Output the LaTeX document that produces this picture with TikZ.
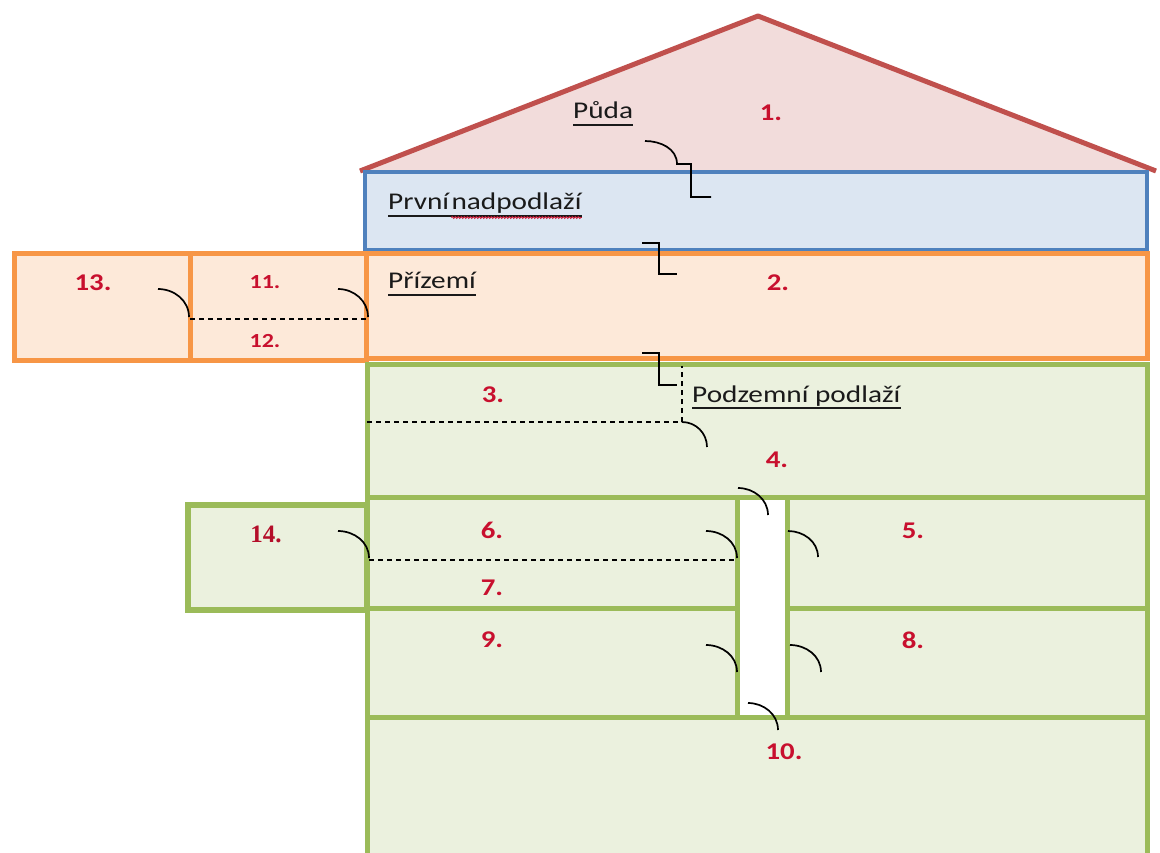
\documentclass[tikz,border=0pt]{standalone}
\usepackage{fontspec}
\setmainfont{Carlito}
\newfontfamily\labelfont[FakeStretch=1.22]{Carlito}
\newfontfamily\numfont[FakeStretch=1.2]{Carlito}
\newfontfamily\serifnum{Liberation Serif}
\usetikzlibrary{decorations.pathmorphing}

\definecolor{roofLine}{HTML}{C0504D}
\definecolor{roofFill}{HTML}{F2DCDB}
\definecolor{blueLine}{HTML}{4F81BD}
\definecolor{blueFill}{HTML}{DCE6F2}
\definecolor{orangeLine}{HTML}{F79646}
\definecolor{orangeFill}{HTML}{FDE9D9}
\definecolor{greenLine}{HTML}{9BBB59}
\definecolor{greenFill}{HTML}{EBF1DE}
\definecolor{numRed}{HTML}{C8102E}
\definecolor{txtDark}{HTML}{1A1A1A}

\begin{document}
\begin{tikzpicture}[x=1pt,y=-1pt,
  floorname/.style={inner sep=0pt, anchor=base west, text=txtDark,
    font=\labelfont\fontsize{24}{28}\selectfont},
  roomno/.style={inner sep=0pt, text=numRed,
    font=\numfont\bfseries\fontsize{24}{28}\selectfont},
  smallno/.style={inner sep=0pt, text=numRed,
    font=\numfont\bfseries\fontsize{20}{24}\selectfont},
  serifno/.style={inner sep=0pt, text=numRed!90!black,
    font=\serifnum\bfseries\fontsize{25}{29}\selectfont},
  underl/.style={line width=1.8pt, txtDark},
  gwall/.style={draw=greenLine, line width=5pt},
  owall/.style={draw=orangeLine, line width=5pt},
  door/.style={line width=1.7pt, black},
  stairs/.style={line width=1.7pt, black},
  partition/.style={line width=1.3pt, black, dash pattern=on 5pt off 4pt}]

\useasboundingbox (0,0) rectangle (1160,853);
\clip (0,0) rectangle (1160,853);

% attic (roof)
\fill[roofFill] (360,171) -- (758,16) -- (1156,171) -- cycle;
\draw[roofLine, line width=5pt, line join=round] (360,171) -- (758,16) -- (1156,171);

% first upper floor
\filldraw[fill=blueFill, draw=blueLine, line width=4.5pt] (365,172) rectangle (1147,250);

% ground floor
\filldraw[fill=orangeFill, owall] (366,254) rectangle (1147,358);
\filldraw[fill=orangeFill, owall] (14,254) rectangle (366,360);
\draw[owall] (190,254) -- (190,360);

% basement
\fill[greenFill] (367,364) rectangle (1147,870);
\fill[white] (737,497) rectangle (787,717);
\draw[gwall] (367,870) -- (367,364) -- (1147,364) -- (1147,870);
\draw[gwall] (367,497) -- (1147,497);
\draw[gwall] (367,717) -- (1147,717);
\draw[gwall] (367,608) -- (737,608);
\draw[gwall] (787,608) -- (1147,608);
\draw[gwall] (737,497) -- (737,717);
\draw[gwall] (787,497) -- (787,717);
\filldraw[fill=greenFill, draw=greenLine, line width=6pt] (188,505) rectangle (367,610);

% light partitions
\draw[partition] (190,319) -- (366,319);
\draw[partition] (367,422) -- (682,422) -- (682,366);
\draw[partition] (369,560) -- (737,560);

% stairs between floors
\draw[stairs] (645,141) to[out=0,in=90] (677,164) -- (691,164) -- (691,197) -- (711,197);
\draw[stairs] (642,243) -- (659,243) -- (659,274) -- (677,274);
\draw[stairs] (642,353) -- (659,353) -- (659,385) -- (677,385);

% doors
\draw[door] (682,422) to[out=0,in=90] (707,447);
\draw[door] (158,289) to[out=0,in=90] (189,317);
\draw[door] (338,289) to[out=0,in=90] (368,317);
\draw[door] (338,531) to[out=0,in=90] (369,558);
\draw[door] (738,488) to[out=0,in=90] (768,515);
\draw[door] (706,531) to[out=0,in=90] (737,558);
\draw[door] (788,531) to[out=0,in=90] (818,557);
\draw[door] (706,645) to[out=0,in=90] (737,672);
\draw[door] (790,645) to[out=0,in=90] (821,672);
\draw[door] (748,703) to[out=0,in=90] (778,730);

% floor names
\node[floorname] (puda) at (573,119) {Půda};
\node[floorname] (prv1) at (388,210) {První};
\node[floorname, anchor=base west] (prv2) at ([xshift=2pt]prv1.base east) {nadpodlaží};
\node[floorname] (priz) at (388,289) {Přízemí};
\node[floorname] (podz) at (692,402) {Podzemní podlaží};

\draw[underl] ([yshift=-6pt]puda.base west) -- ([yshift=-6pt]puda.base east);
\draw[underl] ([yshift=-6pt]prv1.base west) -- ([yshift=-6pt]prv2.base east);
\draw[numRed, line width=0.8pt, decorate, decoration={snake, amplitude=1pt, segment length=3pt}]
  ([yshift=-7.5pt]prv2.base west) -- ([yshift=-7.5pt]prv2.base east);
\draw[underl] ([yshift=-6pt]priz.base west) -- ([yshift=-6pt]priz.base east);
\draw[underl] ([yshift=-6pt]podz.base west) -- ([yshift=-6pt]podz.base east);

% room numbers
\node[roomno] (r1) at (771,113) {1.};
\node[roomno] (r2) at (778,283) {2.};
\node[roomno] (r3) at (493,395) {3.};
\node[roomno] (r4) at (777,460) {4.};
\node[roomno] (r5) at (913,531) {5.};
\node[roomno] (r6) at (492,530) {6.};
\node[roomno] (r7) at (492,588) {7.};
\node[roomno] (r8) at (913,640) {8.};
\node[roomno] (r9) at (492,640) {9.};
\node[roomno] (r10) at (784,752) {10.};
\node[roomno] (r13) at (93,283) {13.};
\node[smallno] (r11) at (265,282) {11.};
\node[smallno] (r12) at (265,341) {12.};
\node[serifno] (r14) at (266,534) {14.};

\end{tikzpicture}
\end{document}
